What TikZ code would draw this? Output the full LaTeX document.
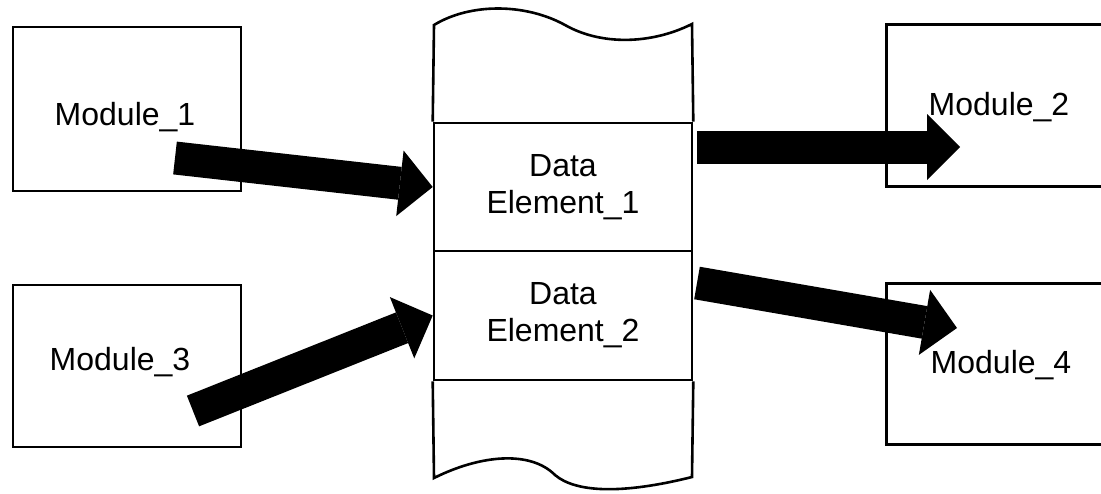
\documentclass[tikz,border=0pt]{standalone}
\usepackage{fontspec}
\setmainfont{Liberation Sans}
\usetikzlibrary{arrows.meta}
\tikzset{
  outline/.style={line width=2.6pt, line join=miter},
  modbox/.style={outline, draw, rectangle, inner sep=0pt},
  elembox/.style={outline, draw, rectangle, inner sep=0pt, minimum width=258pt,
    align=center, font=\fontsize{32pt}{37pt}\selectfont},
  lbl/.style={inner sep=0pt, font=\fontsize{32pt}{37pt}\selectfont},
  bigarrow/.style={line width=33pt, -{Triangle[length=33pt,width=66pt,line width=0pt]}}
}
\begin{document}
\begin{tikzpicture}[x=1pt, y=-1pt]
  \useasboundingbox (0,0) rectangle (1101,493);
  \clip (0,0) rectangle (1101,493);

  % source and target modules
  \node[modbox, minimum width=228pt, minimum height=164pt] (m1) at (127,109) {};
  \node[modbox, minimum width=228pt, minimum height=162pt] (m3) at (127,366) {};
  \node[modbox, minimum width=240pt, minimum height=162pt, anchor=north west] (m2) at (885,23) {};
  \node[modbox, minimum width=240pt, minimum height=161pt, anchor=north west] (m4) at (885,282) {};
  \node[lbl] (t1) at (125,117) {Module\_1};
  \node[lbl] (t3) at (120,362) {Module\_3};
  \node[lbl] (t2) at (999,107) {Module\_2};
  \node[lbl] (t4) at (1001,365) {Module\_4};

  % data store: two element slots between torn-off ends
  \node[elembox, minimum height=128pt] (de1) at (563,187) {Data\\Element\_1};
  \node[elembox, minimum height=129pt] (de2) at (563,315.5) {Data\\Element\_2};
  \draw[outline] (de1.north west) -- (434,25)
    .. controls (470,3) and (525,3) .. (565,25)
    .. controls (600,45) and (650,45) .. (692,24) -- (de1.north east);
  \draw[outline] (de2.south west) -- (434,478)
    .. controls (480,455) and (530,450) .. (555,475)
    .. controls (575,492) and (620,495) .. (692,477) -- (de2.south east);

  % data flows
  \coordinate (a1) at (175,158);
  \coordinate (a3) at (193,411);
  \coordinate (b2s) at (697,147);
  \coordinate (b2e) at (960,147);
  \coordinate (b4s) at (697,283);
  \coordinate (b4e) at (957,328);
  \draw[bigarrow] (a1) -- (de1.west);
  \draw[bigarrow] (a3) -- (de2.west);
  \draw[bigarrow] (b2s) -- (b2e);
  \draw[bigarrow] (b4s) -- (b4e);
\end{tikzpicture}
\end{document}
